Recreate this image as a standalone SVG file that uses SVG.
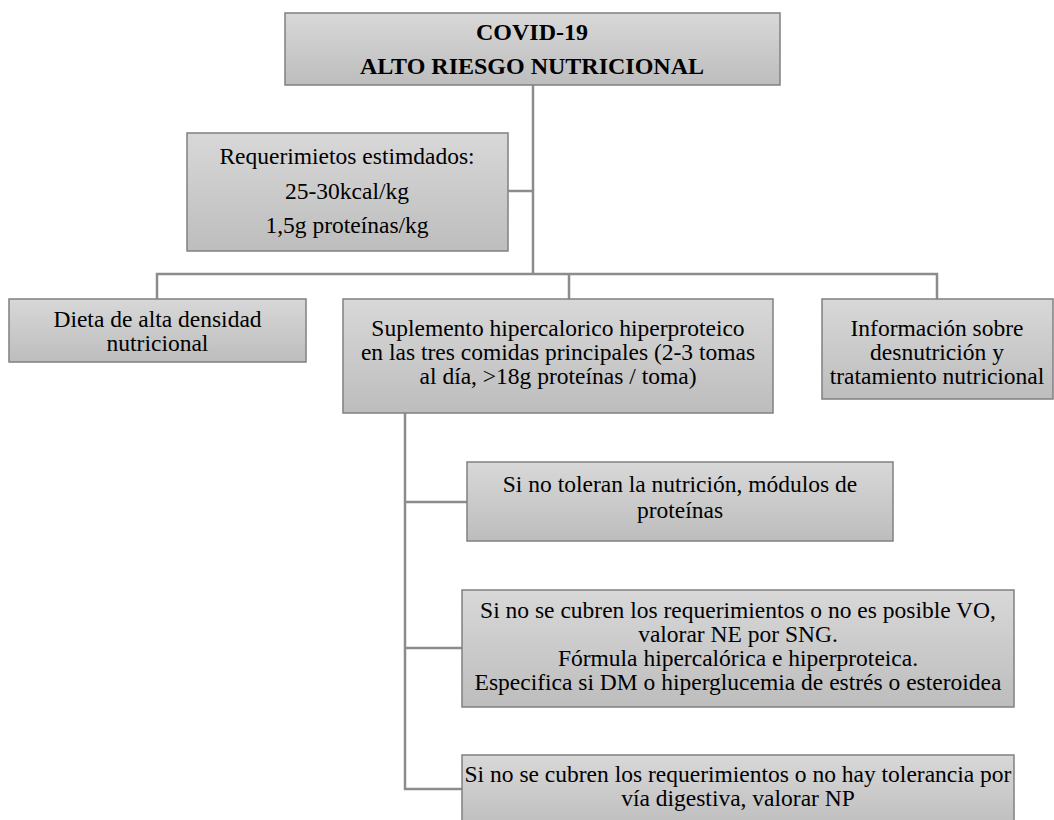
<svg xmlns="http://www.w3.org/2000/svg" width="1054" height="820" viewBox="0 0 1054 820">
<defs>
<linearGradient id="g" x1="0" y1="0" x2="0" y2="1">
<stop offset="0" stop-color="#d8d8d8"/>
<stop offset="1" stop-color="#bdbdbd"/>
</linearGradient>
</defs>
<style>
.box{fill:url(#g);stroke:#808080;stroke-width:1.5}
text{font-family:'Liberation Serif','Times New Roman',Times,serif;font-size:23.5px;fill:#000;text-anchor:middle}
.b{font-weight:bold;font-size:24px}
.c{fill:none;stroke:#8c8c8c;stroke-width:2.5}
</style>
<rect width="1054" height="820" fill="#fff"/>
<g id="connectors">
<path class="c" d="M533 85V274"/>
<path class="c" d="M508 191H533"/>
<path class="c" d="M157 299V274H937V299"/>
<path class="c" d="M569 274V299"/>
<path class="c" d="M405 413V789H462"/>
<path class="c" d="M405 502H467"/>
<path class="c" d="M405 648H462"/>
</g>
<g id="n-title">
<rect class="box" x="285" y="13" width="495" height="72"/>
<text class="b" x="532" y="40">COVID-19</text>
<text class="b" x="532" y="74">ALTO RIESGO NUTRICIONAL</text>
</g>
<g id="n-req">
<rect class="box" x="187" y="133" width="321" height="118"/>
<text x="347" y="164">Requerimietos estimdados:</text>
<text x="347" y="199">25-30kcal/kg</text>
<text x="347" y="233">1,5g proteínas/kg</text>
</g>
<g id="n-dieta">
<rect class="box" x="9" y="299" width="297" height="63"/>
<text x="157.5" y="327">Dieta de alta densidad</text>
<text x="157.5" y="351">nutricional</text>
</g>
<g id="n-suplemento">
<rect class="box" x="343" y="299" width="430" height="114"/>
<text x="558" y="336">Suplemento hipercalorico hiperproteico</text>
<text x="558" y="360">en las tres comidas principales (2-3 tomas</text>
<text x="558" y="384">al día, &gt;18g proteínas / toma)</text>
</g>
<g id="n-info">
<rect class="box" x="822" y="299" width="231" height="100"/>
<text x="937" y="336">Información sobre</text>
<text x="937" y="360">desnutrición y</text>
<text x="937" y="384">tratamiento nutricional</text>
</g>
<g id="n-modulos">
<rect class="box" x="467" y="462" width="426" height="79"/>
<text x="680" y="492">Si no toleran la nutrición, módulos de</text>
<text x="680" y="518">proteínas</text>
</g>
<g id="n-ne">
<rect class="box" x="462" y="590" width="552" height="117"/>
<text x="738" y="618">Si no se cubren los requerimientos o no es posible VO,</text>
<text x="738" y="642">valorar NE por SNG.</text>
<text x="738" y="666">Fórmula hipercalórica e hiperproteica.</text>
<text x="738" y="690">Especifica si DM o hiperglucemia de estrés o esteroidea</text>
</g>
<g id="n-np">
<rect class="box" x="462" y="755" width="552" height="75"/>
<text x="738" y="782">Si no se cubren los requerimientos o no hay tolerancia por</text>
<text x="738" y="806">vía digestiva, valorar NP</text>
</g>
</svg>
